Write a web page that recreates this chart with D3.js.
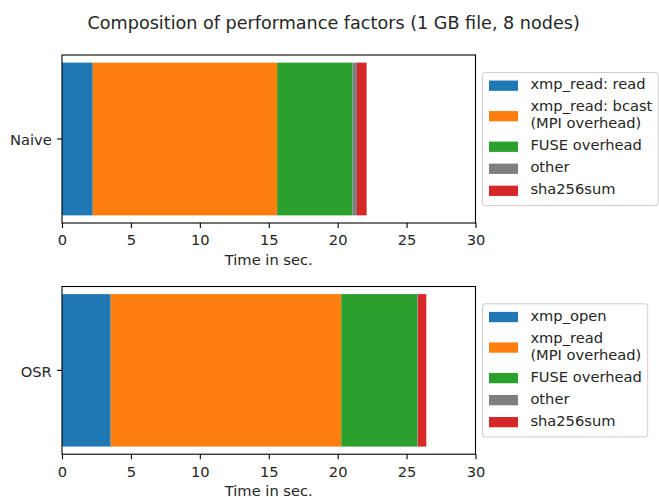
<!DOCTYPE html>
<html><head><meta charset="utf-8">
<script src="https://cdn.jsdelivr.net/npm/d3@7"></script>
<style>
html,body{margin:0;padding:0;background:#fff;}
text{font-family:"DejaVu Sans",sans-serif;fill:#262626;}
</style>
</head><body>
<svg id="chart" width="659" height="497"></svg>
<script>
// ---- data ----
const title = "Composition of performance factors (1 GB file, 8 nodes)";
const xTicks = [0, 5, 10, 15, 20, 25, 30];
const xLabel = "Time in sec.";
const colors = ["#1f77b4", "#ff7f0e", "#2ca02c", "#7f7f7f", "#d62728"];

const naiveCategory = ["Naive"];
const naiveLabels = ["xmp_read: read", "xmp_read: bcast\n(MPI overhead)", "FUSE overhead", "other", "sha256sum"];
const naiveValues = [2.23, 13.38, 5.47, 0.32, 0.70];

const osrCategory = ["OSR"];
const osrLabels = ["xmp_open", "xmp_read\n(MPI overhead)", "FUSE overhead", "other", "sha256sum"];
const osrValues = [3.53, 16.73, 5.52, 0.05, 0.60];

// ---- layout ----
const svg = d3.select("#chart");
const FS = 14.67;
const plotL = 62, plotR = 475.5;

svg.append("text").attr("x", 333.7).attr("y", 29)
  .attr("text-anchor", "middle").style("font-size", "17.6px").text(title);

function panel(top, bottom, category, labels, values) {
  const x = d3.scaleLinear().domain([0, 30]).range([plotL, plotR]);
  const y = d3.scaleLinear().domain([0.44, -0.44]).range([top, bottom]);
  const g = svg.append("g");
  const starts = d3.cumsum([0].concat(values.slice(0, -1)));
  const segs = values.map((v, i) => ({v, s: starts[i], c: colors[i], label: labels[i]}));
  g.selectAll("rect.bar").data(segs).enter().append("rect")
    .attr("class", "bar")
    .attr("x", d => x(d.s))
    .attr("width", d => x(d.s + d.v) - x(d.s))
    .attr("y", y(0.4))
    .attr("height", y(-0.4) - y(0.4))
    .attr("fill", d => d.c);
  g.append("rect").attr("x", plotL).attr("y", top)
    .attr("width", plotR - plotL).attr("height", bottom - top)
    .attr("fill", "none").attr("stroke", "#000").attr("stroke-width", 1.1);
  const ax = g.append("g").attr("transform", `translate(0,${bottom})`)
    .call(d3.axisBottom(x).tickValues(xTicks).tickSize(5).tickPadding(7).tickFormat(d3.format("d")));
  ax.select(".domain").remove();
  ax.selectAll(".tick line").attr("stroke", "#000").attr("stroke-width", 1.1);
  ax.selectAll(".tick text").style("font-size", FS + "px").style("font-family", "DejaVu Sans").attr("fill", "#262626");
  g.append("text").attr("x", (plotL + plotR) / 2).attr("y", bottom + 42)
    .attr("text-anchor", "middle").style("font-size", FS + "px").text(xLabel);
  const yc = y(0);
  g.append("line").attr("x1", plotL - 5).attr("x2", plotL).attr("y1", yc).attr("y2", yc)
    .attr("stroke", "#000").attr("stroke-width", 1.1);
  g.append("text").attr("x", plotL - 10.3).attr("y", yc).attr("dy", "0.42em")
    .attr("text-anchor", "end").style("font-size", FS + "px").text(category[0]);

  // legend
  const lg = svg.append("g");
  const frame = lg.append("rect");
  const pad = 5.9, hLen = 29, hH = 10.3, gap = 13, rowH = 14.7, lineH = 17, spacing = 7.33;
  const bx = plotR + 7;
  let cy = 0;
  let maxW = 0;
  const rows = segs.map(d => {
    const lines = d.label.split("\n");
    const h = rowH + (lines.length - 1) * lineH;
    const r = {d, lines, top: cy, h};
    cy += h + spacing;
    return r;
  });
  const totalH = cy - spacing + 2 * pad + 1.5;
  const boxTop = (top + bottom) / 2 - totalH / 2;
  rows.forEach(r => {
    const rt = boxTop + pad + r.top;
    lg.append("rect").attr("x", bx + pad + 0.6).attr("y", rt + r.h / 2 - hH / 2)
      .attr("width", hLen).attr("height", hH).attr("fill", r.d.c);
    r.lines.forEach((ln, i) => {
      const t = lg.append("text").attr("x", bx + pad + hLen + gap)
        .attr("y", rt + 11 + i * lineH)
        .style("font-size", FS + "px").text(ln);
      maxW = Math.max(maxW, t.node().getComputedTextLength());
    });
  });
  frame.attr("x", bx).attr("y", boxTop).attr("rx", 3)
    .attr("width", pad + hLen + gap + maxW + pad).attr("height", totalH)
    .attr("fill", "#fff").attr("fill-opacity", 0.8)
    .attr("stroke", "#cccccc").attr("stroke-width", 1);
}

panel(55, 223, naiveCategory, naiveLabels, naiveValues);
panel(286.5, 454.2, osrCategory, osrLabels, osrValues);
</script>
</body></html>
